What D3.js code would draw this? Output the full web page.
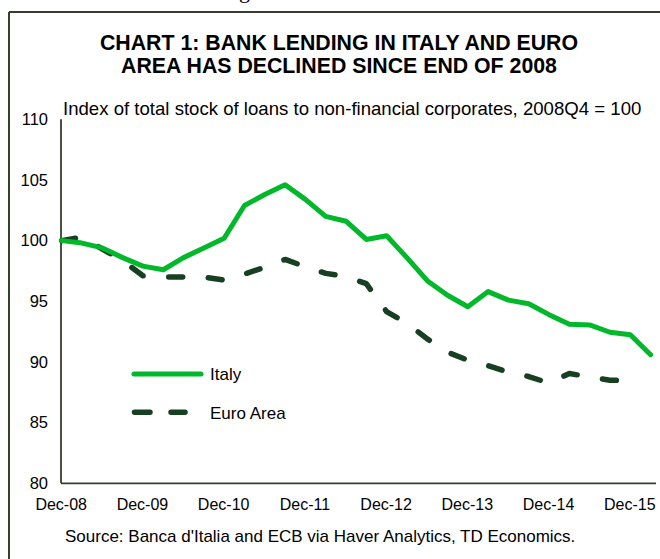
<!DOCTYPE html>
<html>
<head>
<meta charset="utf-8">
<script src="https://cdn.jsdelivr.net/npm/d3@7"></script>
<style>
  html, body { margin: 0; padding: 0; background: #fff; }
  svg { display: block; font-family: "Liberation Sans", Arial, sans-serif; }
</style>
</head>
<body>
<svg id="chart" width="660" height="559"></svg>
<script>
// ---- Data (quarterly, Dec-08 = index 0) ----
const italy = [100.0, 99.8, 99.4, 98.6, 97.9, 97.6, 98.6, 99.4, 100.2, 102.9,
               103.8, 104.6, 103.4, 102.0, 101.6, 100.1, 100.4, 98.6, 96.7, 95.5,
               94.55, 95.8, 95.1, 94.8, 93.9, 93.1, 93.05, 92.45, 92.25, 90.6];
const euroArea = [100.0, 100.3, 99.3, 98.35, 97.1, 97.0, 97.0, 97.0, 96.75, 97.25,
                  97.8, 98.45, 97.85, 97.3, 97.05, 96.45, 94.15, 93.2, 91.9, 90.8,
                  90.15, 89.7, 89.15, 88.8, 88.26, 89.05, 88.76, 88.5, 88.45];
const xTickIdx = [0, 4, 8, 12, 16, 20, 24, 28];
const xTickLabels = ["Dec-08", "Dec-09", "Dec-10", "Dec-11", "Dec-12", "Dec-13", "Dec-14", "Dec-15"];
const yTicks = [80, 85, 90, 95, 100, 105, 110];
const seriesNames = ["Italy", "Euro Area"];

const svg = d3.select("#chart");
const italyColor = "#00b82a";
const euroColor = "#173f22";
const axisColor = "#34402a";

// outer frame (only top and left visible in crop)
svg.append("line").attr("x1", 9).attr("x2", 662).attr("y1", 12).attr("y2", 12)
  .attr("stroke", axisColor).attr("stroke-width", 2);
svg.append("line").attr("x1", 9).attr("x2", 9).attr("y1", 12).attr("y2", 562)
  .attr("stroke", axisColor).attr("stroke-width", 2);

// cut-off glyph above frame (part of text above the box)
svg.append("text").attr("x", 239).attr("y", -2)
  .attr("font-family", "Liberation Serif, serif").attr("font-size", 22).attr("fill", "#000").text("g");

// title
svg.append("text").attr("x", 339).attr("y", 50).attr("text-anchor", "middle")
  .attr("font-size", 21.3).attr("font-weight", "bold").attr("fill", "#000")
  .text("CHART 1: BANK LENDING IN ITALY AND EURO");
svg.append("text").attr("x", 339).attr("y", 72.5).attr("text-anchor", "middle")
  .attr("font-size", 21.3).attr("font-weight", "bold").attr("fill", "#000")
  .text("AREA HAS DECLINED SINCE END OF 2008");

// subtitle
svg.append("text").attr("x", 63).attr("y", 115)
  .attr("font-size", 18.6).attr("fill", "#000")
  .text("Index of total stock of loans to non-financial corporates, 2008Q4 = 100");

// scales
const x = d3.scaleLinear().domain([0, 29]).range([61.7, 650.6]);
const y = d3.scaleLinear().domain([80, 110]).range([483.3, 119.3]);

// y axis labels
const yAxis = d3.axisLeft(y).tickValues(yTicks).tickSize(0).tickPadding(0).tickFormat(d3.format("d"));
const gy = svg.append("g").attr("transform", "translate(48,0)").call(yAxis);
gy.select(".domain").remove();
gy.selectAll("text").attr("font-size", 16.5).attr("fill", "#000")
  .attr("font-family", "Liberation Sans, Arial, sans-serif");

// x axis labels
const xAxis = d3.axisBottom(x).tickValues(xTickIdx).tickSize(0).tickPadding(0)
  .tickFormat((d, i) => xTickLabels[i]);
const gx = svg.append("g").attr("transform", "translate(-1,499)").call(xAxis);
gx.select(".domain").remove();
gx.selectAll("text").attr("font-size", 16).attr("fill", "#000").attr("dy", "0.71em")
  .attr("font-family", "Liberation Sans, Arial, sans-serif");

// axis lines
svg.append("line").attr("x1", 61).attr("x2", 61).attr("y1", y(110)).attr("y2", y(80))
  .attr("stroke", axisColor).attr("stroke-width", 1.8);
svg.append("line").attr("x1", 61).attr("x2", 656).attr("y1", y(80)).attr("y2", y(80))
  .attr("stroke", axisColor).attr("stroke-width", 1.8);

// lines
const line = d3.line().x((d, i) => x(i)).y(d => y(d));
svg.append("path").datum(euroArea).attr("d", line)
  .attr("fill", "none").attr("stroke", euroColor).attr("stroke-width", 5.5)
  .attr("stroke-linecap", "round").attr("stroke-linejoin", "round")
  .attr("stroke-dasharray", "14,25.6");
svg.append("path").datum(italy).attr("d", line)
  .attr("fill", "none").attr("stroke", italyColor).attr("stroke-width", 5)
  .attr("stroke-linejoin", "round").attr("stroke-linecap", "round");

// legend
const lg = svg.append("g");
lg.append("line").attr("x1", 134).attr("x2", 201).attr("y1", 374).attr("y2", 374)
  .attr("stroke", italyColor).attr("stroke-width", 5).attr("stroke-linecap", "round");
lg.append("line").attr("x1", 134.5).attr("x2", 185).attr("y1", 412.3).attr("y2", 412.3)
  .attr("stroke", euroColor).attr("stroke-width", 5.5).attr("stroke-linecap", "round")
  .attr("stroke-dasharray", "15.5,21");
lg.append("text").attr("x", 210).attr("y", 380).attr("font-size", 17).attr("fill", "#000").text(seriesNames[0]);
lg.append("text").attr("x", 210).attr("y", 418.5).attr("font-size", 17).attr("fill", "#000").text(seriesNames[1]);

// source
svg.append("text").attr("x", 65).attr("y", 542).attr("font-size", 17).attr("fill", "#000")
  .text("Source: Banca d'Italia and ECB via Haver Analytics, TD Economics.");
</script>
</body>
</html>
